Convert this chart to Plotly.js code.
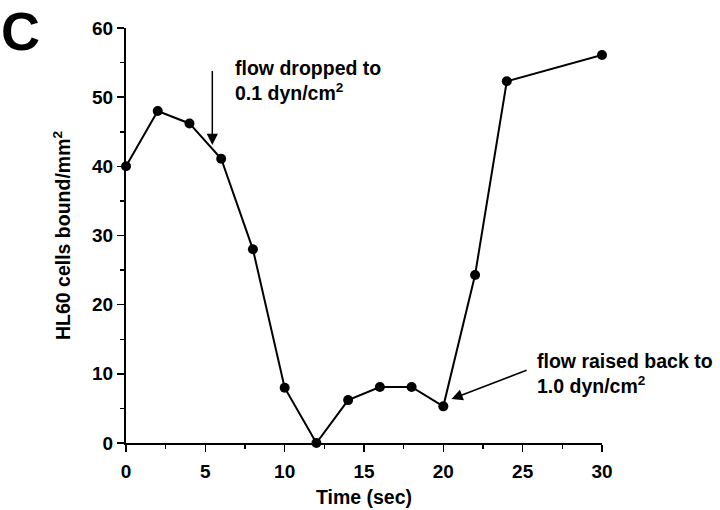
<!DOCTYPE html>
<html>
<head>
<meta charset="utf-8">
<script src="https://cdn.plot.ly/plotly-3.0.1.min.js"></script>
<style>html,body{margin:0;padding:0;background:#fff;}#chart{width:720px;height:510px;}</style>
</head>
<body>
<div id="chart"></div>
<script>
// Data
const timeSec = [0, 2, 4, 6, 8, 10, 12, 14, 16, 18, 20, 22, 24, 30];
const cellsBound = [40, 48, 46.2, 41.1, 28, 8, 0, 6.2, 8.1, 8.1, 5.3, 24.3, 52.3, 56.1];
const xTickVals = [0, 5, 10, 15, 20, 25, 30];
const yTickVals = [0, 10, 20, 30, 40, 50, 60];
const panelLabel = "C";
const xTitle = "Time (sec)";
const yTitle = "HL60 cells bound/mm<sup>2</sup>";
const noteDrop = "flow dropped to<br>0.1 dyn/cm<sup>2</sup>";
const noteRaise = "flow raised back to<br>1.0 dyn/cm<sup>2</sup>";
// annotation anchor points (data units)
const dropText = {x: 6.75, y: 52.4};
const dropArrow = {x: 5.44, y: 43.1, ax: 5.44, ay: 54.0};
const raiseText = {x: 25.75, y: 10.1};
const raiseArrow = {x: 20.51, y: 6.36, ax: 25.34, ay: 10.6};

const FONT = "Liberation Sans, Arial, Helvetica, sans-serif";
const TXT = {family: FONT, size: 19.5, color: "#000", weight: "bold"};

const trace = {
  x: timeSec, y: cellsBound,
  type: "scatter", mode: "lines+markers",
  line: {color: "#000", width: 2},
  marker: {color: "#000", size: 10},
  cliponaxis: false,
  hoverinfo: "none"
};

const axisCommon = {
  showgrid: false, zeroline: false,
  showline: true, linecolor: "#000", linewidth: 2,
  ticks: "outside", ticklen: 7, tickwidth: 1.5, tickcolor: "#000",
  tickfont: {family: FONT, size: 19, color: "#000", weight: "bold"},
  fixedrange: true
};

const layout = {
  width: 720, height: 510,
  margin: {l: 126, r: 117.7, t: 28.3, b: 66.7},
  paper_bgcolor: "#fff", plot_bgcolor: "#fff",
  showlegend: false,
  xaxis: Object.assign({}, axisCommon, {
    range: [0, 30], tickmode: "array", tickvals: xTickVals,
    minor: {ticks: "outside", dtick: 2.5, ticklen: 4, tickwidth: 1.5, tickcolor: "#000", showgrid: false},
    ticklabelstandoff: 3,
    title: {text: xTitle, font: TXT, standoff: 10}
  }),
  yaxis: Object.assign({}, axisCommon, {
    range: [0, 60], tickmode: "array", tickvals: yTickVals,
    minor: {ticks: "outside", dtick: 5, ticklen: 4, tickwidth: 1.5, tickcolor: "#000", showgrid: false},
    title: {text: yTitle, font: TXT, standoff: 16}
  }),
  annotations: [
    {
      text: panelLabel, xref: "paper", yref: "paper",
      x: -0.265, y: 1.068, xanchor: "left", yanchor: "top", borderpad: 0,
      showarrow: false,
      font: {family: FONT, size: 54, color: "#000", weight: "bold"}
    },
    {
      text: noteDrop, xref: "x", yref: "y", x: dropText.x, y: dropText.y,
      xanchor: "left", yanchor: "middle", align: "left",
      showarrow: false, font: TXT
    },
    {
      text: "", xref: "x", yref: "y", x: dropArrow.x, y: dropArrow.y,
      axref: "x", ayref: "y", ax: dropArrow.ax, ay: dropArrow.ay,
      showarrow: true, arrowhead: 2, arrowsize: 1.5, arrowwidth: 1.5, arrowcolor: "#000"
    },
    {
      text: noteRaise, xref: "x", yref: "y", x: raiseText.x, y: raiseText.y,
      xanchor: "left", yanchor: "middle", align: "left",
      showarrow: false, font: TXT
    },
    {
      text: "", xref: "x", yref: "y", x: raiseArrow.x, y: raiseArrow.y,
      axref: "x", ayref: "y", ax: raiseArrow.ax, ay: raiseArrow.ay,
      showarrow: true, arrowhead: 2, arrowsize: 1.5, arrowwidth: 1.5, arrowcolor: "#000"
    }
  ]
};

Plotly.newPlot("chart", [trace], layout, {staticPlot: true, displayModeBar: false});
</script>
</body>
</html>
